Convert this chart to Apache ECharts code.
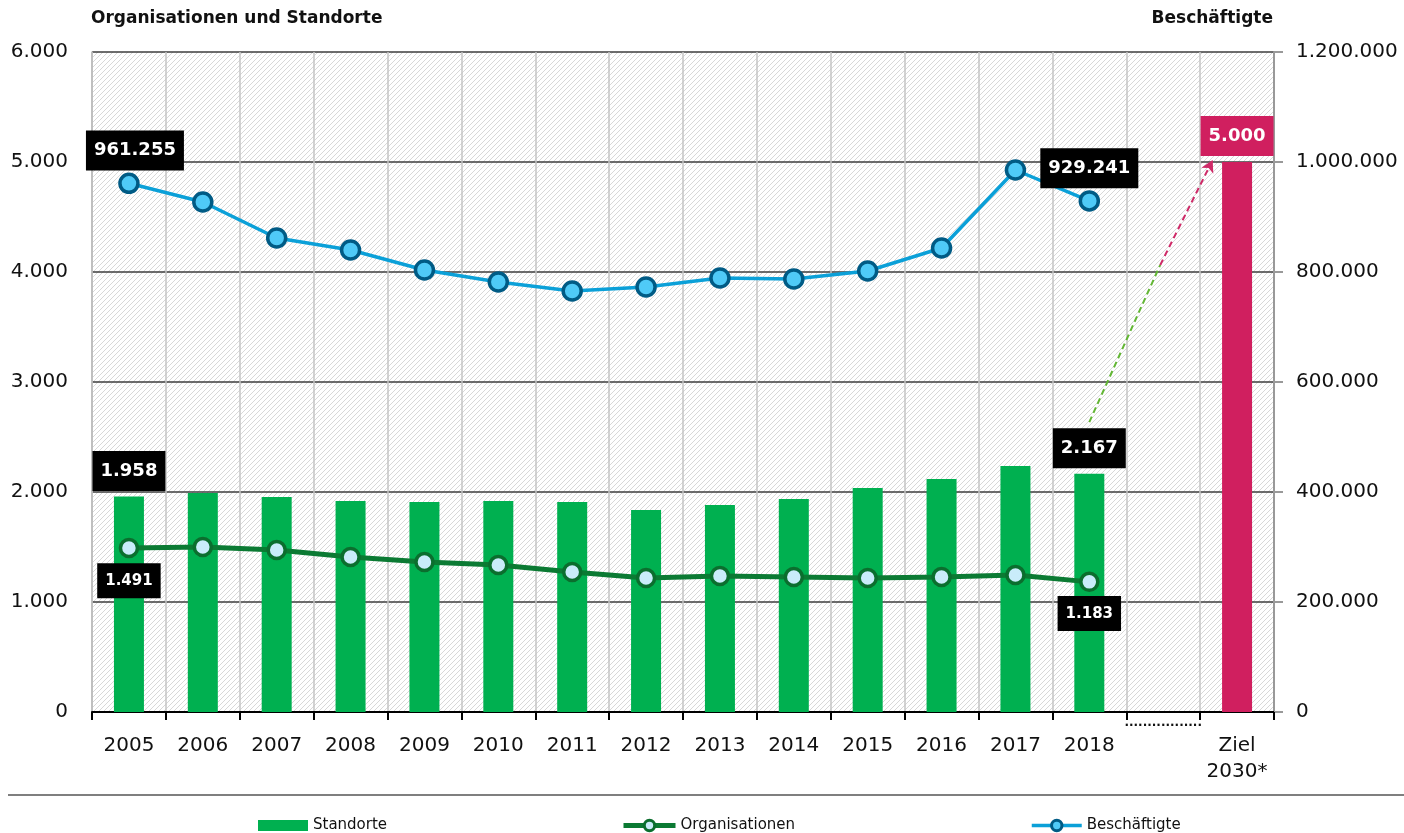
<!DOCTYPE html>
<html>
<head>
<meta charset="utf-8">
<title>Organisationen und Standorte</title>
<script src="https://cdn.jsdelivr.net/npm/echarts@6/dist/echarts.min.js"></script>
<style>html,body{margin:0;padding:0;background:#fff;}</style>
</head>
<body>
<div id="main" style="width:1404px;height:833px;"></div>
<script>
// Daten
var categories = ['2005', '2006', '2007', '2008', '2009', '2010', '2011', '2012',
    '2013', '2014', '2015', '2016', '2017', '2018', '', 'Ziel\n2030*'];
var standorte = [1958, 1991, 1955, 1918, 1909, 1918, 1909, 1836, 1882, 1936, 2036, 2118, 2236, 2167];
var zielStandorte = 5000;
var organisationen = [1491, 1500, 1473, 1409, 1364, 1336, 1273, 1218, 1236, 1227, 1218, 1227, 1245, 1183];
var beschaeftigte = [961255, 927273, 861818, 840000, 803636, 781818, 765455, 772727,
    789091, 787273, 801818, 843636, 985455, 929241];
var labelIdx = [0, 13];
// Pfeil von 2018 zum Ziel (x = Position in Kategorien, 0..16; y = Standorte)
var arrowLower = [[13.5, 2636], [14.46, 4064]];
var arrowUpper = [[14.46, 4064], [15.17, 5018]];
var gapPos = 14.5;

var FONT = 'DejaVu Sans';

function de(v) {
    return String(v).replace(/\B(?=(\d{3})+(?!\d))/g, '.');
}

// Schraffur für den Hintergrund
var hatch = document.createElement('canvas');
hatch.width = 5;
hatch.height = 5;
var ctx = hatch.getContext('2d');
ctx.fillStyle = '#fff';
ctx.fillRect(0, 0, 5, 5);
ctx.strokeStyle = '#d8d8d8';
ctx.lineWidth = 1;
ctx.beginPath();
ctx.moveTo(0, 5); ctx.lineTo(5, 0);
ctx.moveTo(-1, 1); ctx.lineTo(1, -1);
ctx.moveTo(4, 6); ctx.lineTo(6, 4);
ctx.stroke();

var blackLabel = {
    show: true,
    backgroundColor: '#000',
    color: '#fff',
    fontFamily: FONT,
    fontWeight: 'bold',
    fontSize: 18,
    padding: [11, 8, 11, 8]
};
var smallLabel = {
    show: true,
    backgroundColor: '#000',
    color: '#fff',
    fontFamily: FONT,
    fontWeight: 'bold',
    fontSize: 15,
    padding: [10, 8, 10, 8]
};
function fmt(p) { return de(p.value); }

var barData = categories.map(function (c, i) {
    if (i < standorte.length) {
        var item = { value: standorte[i] };
        if (labelIdx.indexOf(i) >= 0) {
            item.label = Object.assign({ position: 'top', distance: 5.5, formatter: fmt }, blackLabel);
        }
        return item;
    }
    if (i === categories.length - 1) {
        return {
            value: zielStandorte,
            itemStyle: { color: '#d01f5f' },
            label: Object.assign({}, blackLabel, {
                position: 'top', distance: 6, backgroundColor: '#d01f5f', formatter: fmt
            })
        };
    }
    return null;
});

var orgData = organisationen.map(function (v, i) {
    var item = { value: v };
    if (labelIdx.indexOf(i) >= 0) {
        item.label = Object.assign({ position: 'bottom', distance: i === 0 ? 5 : 4, formatter: fmt }, smallLabel);
    }
    return item;
});

var beschData = beschaeftigte.map(function (v, i) {
    var item = { value: v };
    if (i === 0) {
        item.label = Object.assign({ position: 'top', distance: 2, offset: [6, 0], formatter: fmt }, blackLabel);
    } else if (i === 13) {
        item.label = Object.assign({ position: 'top', distance: 2, formatter: fmt }, blackLabel);
    }
    return item;
});

var myChart = echarts.init(document.getElementById('main'));

var legendText = { fontFamily: FONT, fontSize: 15, color: '#111' };

var option = {
    animation: false,
    textStyle: { fontFamily: FONT },
    title: [{
        text: 'Organisationen und Standorte',
        left: 91, top: 10, padding: 0,
        textStyle: { fontFamily: FONT, fontWeight: 'bold', fontSize: 17, color: '#111' }
    }, {
        text: 'Beschäftigte',
        right: 131, top: 10, padding: 0,
        textStyle: { fontFamily: FONT, fontWeight: 'bold', fontSize: 17, color: '#111' }
    }],
    grid: {
        left: 92, right: 130, top: 52, bottom: 121,
        show: true,
        borderWidth: 0,
        backgroundColor: { image: hatch, repeat: 'repeat' }
    },
    legend: [{
        data: ['Standorte'], left: 258, top: 818, padding: 0, itemWidth: 50, itemHeight: 11, icon: 'rect',
        textStyle: legendText
    }, {
        data: ['Organisationen'], left: 621, top: 818, padding: 0, itemWidth: 52, itemHeight: 13,
        lineStyle: { width: 5 }, itemStyle: { borderWidth: 3 },
        textStyle: legendText
    }, {
        data: ['Beschäftigte'], left: 1030, top: 818, padding: 0, itemWidth: 50, itemHeight: 13,
        lineStyle: { width: 3.5 }, itemStyle: { borderWidth: 3 },
        textStyle: legendText
    }],
    xAxis: [{
        type: 'category',
        data: categories,
        axisLine: { lineStyle: { color: '#000', width: 2 } },
        axisTick: { show: true, length: 8, lineStyle: { color: '#000', width: 2 } },
        splitLine: { show: true, lineStyle: { color: '#c4c4c4', width: 1.5 } },
        axisLabel: {
            margin: 21,
            interval: 0,
            color: '#111',
            fontFamily: FONT,
            fontSize: 20,
            lineHeight: 26
        }
    }, {
        // unsichtbare Hilfsachse für Pfeil und Lücken-Markierung
        type: 'value', position: 'bottom',
        min: 0, max: 16, interval: 0.5,
        axisLine: { show: false },
        axisTick: { show: false },
        splitLine: { show: false },
        axisLabel: {
            margin: 5,
            interval: 0,
            showMinLabel: false,
            showMaxLabel: false,
            fontFamily: FONT,
            fontSize: 12,
            fontWeight: 'bold',
            lineHeight: 12,
            color: '#111',
            formatter: function (v) { return v === gapPos ? '.................' : ''; }
        }
    }],
    yAxis: [{
        type: 'value',
        min: 0, max: 6000, interval: 1000,
        axisLine: { show: true, lineStyle: { color: '#b8b8b8', width: 1.5 } },
        axisTick: { show: false },
        axisLabel: { margin: 24, fontFamily: FONT, fontSize: 20, color: '#111', formatter: de },
        splitLine: { lineStyle: { color: '#3c3c3c', width: 1.5 } }
    }, {
        type: 'value',
        position: 'right',
        min: 0, max: 1200000, interval: 200000,
        axisLine: { show: true, lineStyle: { color: '#999', width: 2 } },
        axisTick: { show: true, length: 9, lineStyle: { color: '#999', width: 2 } },
        axisLabel: { margin: 22, fontFamily: FONT, fontSize: 20, color: '#111', formatter: de },
        splitLine: { show: false }
    }],
    series: [{
        name: 'Standorte',
        type: 'bar',
        barWidth: 30,
        itemStyle: { color: '#00b050' },
        data: barData,
        z: 2
    }, {
        name: 'arrow',
        type: 'line',
        xAxisIndex: 1,
        yAxisIndex: 0,
        data: arrowLower,
        symbol: 'none',
        silent: true,
        lineStyle: { color: '#62b634', width: 2, type: [6, 4] },
        z: 3,
        markLine: {
            silent: true,
            symbol: ['none', 'arrow'],
            symbolSize: [10, 12],
            label: { show: false },
            lineStyle: { color: '#cf2a68', width: 2, type: [6, 4] },
            data: [[{ coord: arrowUpper[0] }, { coord: arrowUpper[1] }]]
        }
    }, {
        name: 'Organisationen',
        type: 'line',
        yAxisIndex: 0,
        data: orgData,
        symbol: 'circle',
        symbolSize: 17,
        lineStyle: { color: '#0b7a33', width: 5 },
        itemStyle: { color: '#c9ecfa', borderColor: '#0b6e2e', borderWidth: 3.5 },
        z: 4
    }, {
        name: 'Beschäftigte',
        type: 'line',
        yAxisIndex: 1,
        data: beschData,
        symbol: 'circle',
        symbolSize: 18,
        lineStyle: { color: '#0ba0d8', width: 3.5 },
        itemStyle: { color: '#4fcaf7', borderColor: '#005b85', borderWidth: 3.5 },
        z: 5
    }],
    graphic: [{
        type: 'line',
        shape: { x1: 8, y1: 795, x2: 1404, y2: 795 },
        style: { stroke: '#555', lineWidth: 1.5 }
    }]
};

myChart.setOption(option);
</script>
</body>
</html>
